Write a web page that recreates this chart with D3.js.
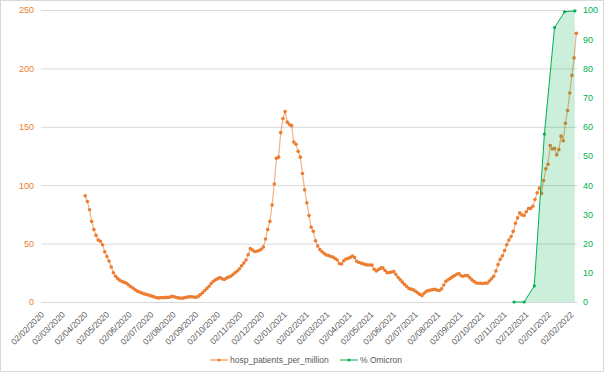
<!DOCTYPE html>
<html>
<head>
<meta charset="utf-8">
<script src="https://cdn.jsdelivr.net/npm/d3@7"></script>
<style>
  body { margin: 0; background: #fff; }
  text { font-family: "Liberation Sans", Arial, sans-serif; }
</style>
</head>
<body>
<div class="container"></div>
<script>
// hospital patients per million, one reading every 3 days from 03/04/2020
const hospStart = '03/04/2020';
const hospStepDays = 3;
const hospValues = [
  91, 86, 79, 69, 62, 57, 53, 52, 49, 43, 39, 35, 30, 25, 22, 20, 18.5, 17.5, 16.8, 16,
  14.5, 13, 12, 10.5, 9.3, 8.5, 7.8, 7, 6.5, 6, 5.5, 4.8, 4.2, 3.7, 3.5, 3.8, 3.6, 4, 3.8, 4.2,
  4.8, 4.5, 3.8, 3.5, 3.2, 3.3, 3.8, 4.2, 4.4, 4.5, 4.2, 4, 4.8, 6.3, 7.9, 9.8, 11.6, 13.5, 15.8, 17.8,
  19, 20, 21, 19.8, 19.3, 20.4, 21.3, 22, 23.5, 25, 26.6, 28.4, 31, 33.3, 36, 40.5, 45.8, 44.5, 43.2, 43.5,
  44, 45.2, 47, 54, 62, 69, 83, 101, 123, 124, 145, 157, 163, 154, 152, 151, 137, 135, 129, 124,
  110, 96, 85, 74, 64, 60.5, 52.5, 48, 45, 43, 41.5, 40.3, 39.8, 39, 38.5, 37.2, 36, 33, 32.5, 35.3,
  36.8, 37.3, 38.2, 39.4, 38, 34.8, 33.8, 33.3, 32.6, 32, 31.7, 31.7, 31.6, 28, 26.5, 27.8, 29, 29.2, 27, 25,
  25.3, 25.7, 26, 23.5, 21, 19, 17, 15, 13.3, 11.6, 11, 10.4, 9.2, 7.9, 6.5, 5.5, 7.5, 9.1, 9.7, 10.3,
  10.6, 10.8, 10, 9.8, 11.3, 14.5, 17.7, 19, 20.2, 21.5, 22.6, 23.7, 24.3, 22.5, 22, 22.6, 22.6, 20.8, 18.9, 17.5,
  16.3, 16, 16, 15.8, 16.2, 16, 18, 19.8, 22, 26.5, 32, 36.5, 39.5, 44, 49, 53, 56, 60.5, 67.4, 72,
  76.3, 74.5, 74.2, 77.3, 80, 80.2, 82, 87.8, 93.5, 97.5, 93, 104, 114, 118, 134, 131, 131.5, 126, 130.5, 142,
  138, 153, 164, 179, 194, 209, 230
];

const omicronDates = ['16/11/2021', '30/11/2021', '14/12/2021', '28/12/2021', '11/01/2022', '25/01/2022', '08/02/2022'];
const omicronValues = [0, 0, 5.5, 57.5, 94, 99.4, 99.7];

const xTickLabels = [
  '02/02/2020', '02/03/2020', '02/04/2020', '02/05/2020', '02/06/2020', '02/07/2020', '02/08/2020',
  '02/09/2020', '02/10/2020', '02/11/2020', '02/12/2020', '02/01/2021', '02/02/2021', '02/03/2021',
  '02/04/2021', '02/05/2021', '02/06/2021', '02/07/2021', '02/08/2021', '02/09/2021', '02/10/2021',
  '02/11/2021', '02/12/2021', '02/01/2022', '02/02/2022'
];
const leftTicks = [0, 50, 100, 150, 200, 250];
const rightTicks = [0, 10, 20, 30, 40, 50, 60, 70, 80, 90, 100];
const seriesNames = ['hosp_patients_per_million', '% Omicron'];

const orange = '#ED7D31';
const green = '#00B050';
const width = 605;
const height = 374;
const plot = { left: 41, right: 577, top: 10, bottom: 302 };

const parse = d3.utcParse('%d/%m/%Y');

const hosp = hospValues.map((v, i) => ({
  date: d3.utcDay.offset(parse(hospStart), i * hospStepDays),
  value: v
}));
const omicron = omicronDates.map((d, i) => ({ date: parse(d), value: omicronValues[i] }));

const svg = d3
  .select('.container')
  .append('svg')
  .attr('width', width)
  .attr('height', height);

svg
  .append('rect')
  .attr('x', 0.5)
  .attr('y', 0.5)
  .attr('width', 603)
  .attr('height', 371)
  .attr('fill', '#fff')
  .attr('stroke', '#d9d9d9');

const x = d3
  .scaleUtc()
  .domain([parse('02/02/2020'), parse('11/02/2022')])
  .range([plot.left, plot.right]);
const y = d3.scaleLinear().domain([0, 250]).range([plot.bottom, plot.top]);
const y2 = d3.scaleLinear().domain([0, 100]).range([plot.bottom, plot.top]);

// gridlines
const grid = svg
  .append('g')
  .attr('transform', `translate(${plot.left}, 0)`)
  .call(d3.axisLeft(y).tickValues(leftTicks).tickSize(-(plot.right - plot.left)).tickFormat(''));
grid.select('.domain').remove();
grid.selectAll('line').attr('stroke', '#d9d9d9').attr('stroke-width', 1);

// left axis
const yAxis = svg
  .append('g')
  .attr('transform', `translate(${plot.left - 7}, 0)`)
  .call(d3.axisLeft(y).tickValues(leftTicks).tickSize(0).tickPadding(0));
yAxis.select('.domain').remove();
yAxis.selectAll('text').attr('fill', orange).attr('font-size', 9).attr('font-family', '"Liberation Sans", Arial, sans-serif');

// right axis
const y2Axis = svg
  .append('g')
  .attr('transform', `translate(${plot.right + 6}, 0)`)
  .call(d3.axisRight(y2).tickValues(rightTicks).tickSize(0).tickPadding(0));
y2Axis.select('.domain').remove();
y2Axis.selectAll('text').attr('fill', green).attr('font-size', 9).attr('font-family', '"Liberation Sans", Arial, sans-serif');

// x axis
const xAxis = svg
  .append('g')
  .attr('transform', `translate(0, ${plot.bottom})`)
  .call(d3.axisBottom(x).tickValues(xTickLabels.map(parse)).tickFormat(d3.utcFormat('%d/%m/%Y')).tickSize(0));
xAxis.select('.domain').attr('stroke', '#d9d9d9');
xAxis
  .selectAll('text')
  .attr('fill', '#595959')
  .attr('font-size', 8.5)
  .attr('font-family', '"Liberation Sans", Arial, sans-serif')
  .attr('text-anchor', 'end')
  .attr('x', 0)
  .attr('y', 0)
  .attr('dy', '0.35em')
  .attr('transform', 'translate(1, 11) rotate(-45)');

// hospital series
const line = d3.line().x(d => x(d.date)).y(d => y(d.value));
svg
  .append('path')
  .datum(hosp)
  .attr('fill', 'none')
  .attr('stroke', orange)
  .attr('stroke-opacity', 0.6)
  .attr('stroke-width', 1.2)
  .attr('d', line);
svg
  .append('g')
  .selectAll('circle')
  .data(hosp)
  .enter()
  .append('circle')
  .attr('cx', d => x(d.date))
  .attr('cy', d => y(d.value))
  .attr('r', 1.8)
  .attr('fill', orange);

// omicron series
const area = d3.area().x(d => x(d.date)).y0(plot.bottom).y1(d => y2(d.value));
svg
  .append('path')
  .datum(omicron)
  .attr('fill', green)
  .attr('fill-opacity', 0.2)
  .attr('d', area);
svg
  .append('path')
  .datum(omicron)
  .attr('fill', 'none')
  .attr('stroke', green)
  .attr('stroke-width', 1)
  .attr('d', d3.line().x(d => x(d.date)).y(d => y2(d.value)));
svg
  .append('g')
  .selectAll('circle')
  .data(omicron)
  .enter()
  .append('circle')
  .attr('cx', d => x(d.date))
  .attr('cy', d => y2(d.value))
  .attr('r', 1.6)
  .attr('fill', green);

// legend
const legend = svg
  .selectAll('.legend')
  .data([
    { name: seriesNames[0], color: orange, x: 210 },
    { name: seriesNames[1], color: green, x: 340 }
  ])
  .enter()
  .append('g')
  .attr('class', 'legend')
  .attr('transform', d => `translate(${d.x}, 360)`);
legend
  .append('line')
  .attr('x1', 0)
  .attr('x2', 18)
  .attr('stroke', d => d.color)
  .attr('stroke-width', 1);
legend
  .append('circle')
  .attr('cx', 9)
  .attr('r', 1.5)
  .attr('fill', d => d.color);
legend
  .append('text')
  .attr('x', 20)
  .attr('dy', '0.35em')
  .attr('font-size', 8.5)
  .attr('fill', '#595959')
  .text(d => d.name);
</script>
</body>
</html>
